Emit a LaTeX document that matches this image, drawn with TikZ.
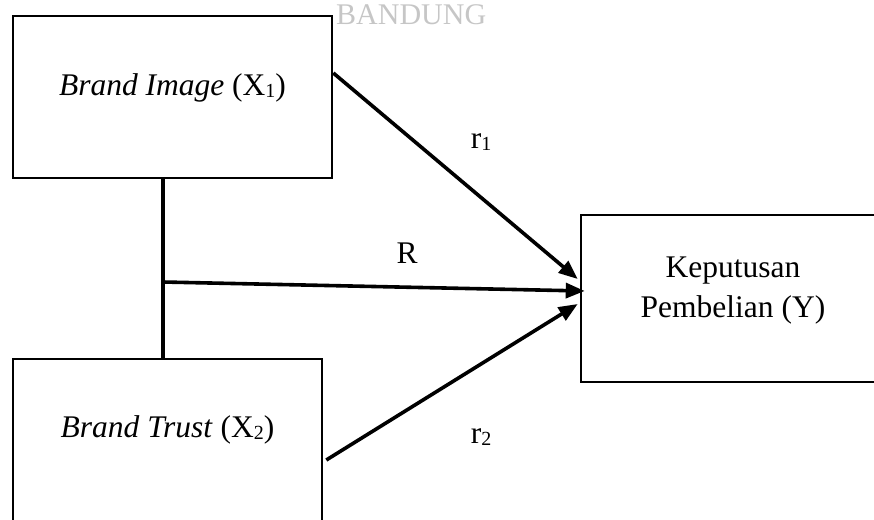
\documentclass[tikz,border=0pt]{standalone}
\usepackage{fontspec}
\setmainfont{Liberation Serif}
\usepackage{tikz}
\usepackage{xcolor}
\usetikzlibrary{arrows.meta}

\newcommand{\lowidx}[1]{\raisebox{-1.5pt}{\fontsize{20}{20}\selectfont #1}}

\tikzset{
  box/.style={draw, line width=2.6pt, inner sep=0pt},
  link/.style={line width=3.6pt},
  arr/.style={link, -{Triangle[length=19pt,width=15pt]}},
  lbl/.style={font=\fontsize{31.5}{40}\selectfont, inner sep=0pt}
}

\begin{document}
\begin{tikzpicture}[x=1pt,y=1pt,yscale=-1,xscale=1]
\clip (0,0) rectangle (874,519);

% watermark at the top
\node[anchor=base west, inner sep=0pt, text=gray!45, font=\fontsize{30}{36}\selectfont] (wm) at (336,25) {BANDUNG};

%Shape: Rectangle -- Brand Image
\node[box, minimum width=319pt, minimum height=162pt] (img) at (172.5,97) {};
%Shape: Rectangle -- Brand Trust
\node[box, minimum width=309pt, minimum height=162pt] (trs) at (167.5,440) {};
%Shape: Rectangle -- Keputusan Pembelian
\node[box, minimum width=304pt, minimum height=167pt] (kpb) at (733,298.5) {};

% Text Node
\node[lbl] (imgtxt) at (172.5,88) {\textit{Brand Image} (X\lowidx{1})};
% Text Node
\node[lbl] (trstxt) at (167.5,430) {\textit{Brand Trust} (X\lowidx{2})};
% Text Node
\node[lbl, align=center] (kpbtxt) at (733,291) {Keputusan\\Pembelian (Y)};

%Straight Lines
\coordinate (jn) at (163,282);
\draw[link] (img.south -| jn) -- (trs.north -| jn);
\draw[arr] ([yshift=-24pt]img.east) -- ([shift={(-2,-19.5)}]kpb.west);
\draw[arr] (jn) -- ([shift={(5,-7.5)}]kpb.west);
\draw[arr] ([shift={(3,20)}]trs.east) -- ([shift={(-2,5.5)}]kpb.west);

% Text Node
\node[lbl] (r1) at (481,142) {r\lowidx{1}};
% Text Node
\node[lbl] (rr) at (407,253) {R};
% Text Node
\node[lbl] (r2) at (481,437) {r\lowidx{2}};

\end{tikzpicture}
\end{document}
